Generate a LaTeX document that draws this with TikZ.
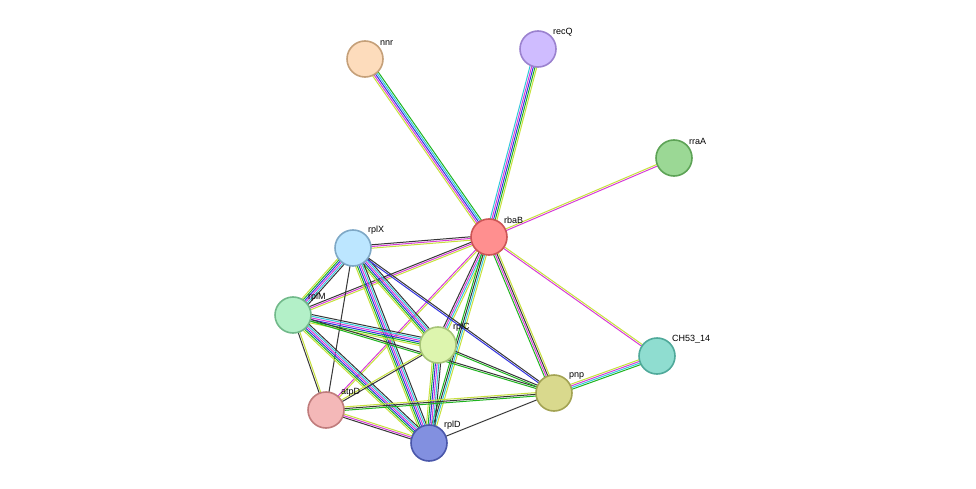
\documentclass[tikz,border=0pt]{standalone}
\usepackage{fontspec}
\setmainfont{Liberation Sans}
\usetikzlibrary{calc,backgrounds}
\definecolor{egrn}{RGB}{30,180,30}
\definecolor{eylw}{RGB}{199,225,60}
\definecolor{ecyn}{RGB}{50,200,220}
\definecolor{emag}{RGB}{215,60,215}
\definecolor{eblu}{RGB}{50,50,225}
\definecolor{eblk}{RGB}{55,55,55}
\definecolor{fnnr}{HTML}{FDDCBC}\definecolor{dnnr}{HTML}{C5A079}
\definecolor{frecQ}{HTML}{CFBCFF}\definecolor{drecQ}{HTML}{9B82CF}
\definecolor{frraA}{HTML}{9BD895}\definecolor{drraA}{HTML}{5DA356}
\definecolor{frbaB}{HTML}{FF8F8F}\definecolor{drbaB}{HTML}{CC5555}
\definecolor{frplX}{HTML}{BCE6FF}\definecolor{drplX}{HTML}{7EA8C6}
\definecolor{frplM}{HTML}{B3F0C8}\definecolor{drplM}{HTML}{71B98A}
\definecolor{frplC}{HTML}{DDF5AE}\definecolor{drplC}{HTML}{A7C477}
\definecolor{fCH53}{HTML}{8FDDD0}\definecolor{dCH53}{HTML}{4FA99A}
\definecolor{fpnp}{HTML}{D9D98D}\definecolor{dpnp}{HTML}{A3A353}
\definecolor{fatpD}{HTML}{F4B8B8}\definecolor{datpD}{HTML}{C07C7C}
\definecolor{frplD}{HTML}{8290E0}\definecolor{drplD}{HTML}{4A57AA}
\tikzset{
  prot/.style={circle,minimum size=36pt,inner sep=0pt,line width=1.6pt,fill=f#1,draw=d#1},
  plab/.style={font=\fontsize{9}{10}\selectfont,anchor=south west,inner sep=1pt},
  edge/.style={line width=1pt}
}
% multi-colour link: from, to, number of lines, colours
\newcommand{\sedge}[4]{%
  \foreach \c [count=\i] in {#4} {
    \pgfmathsetmacro\o{(\i-(#3+1)/2)*1.7}
    \draw[edge,\c] ($(#1)!\o pt!90:(#2)$) -- ($(#2)!\o pt!-90:(#1)$);
  }}
\begin{document}
\begin{tikzpicture}[x=1pt,y=-1pt]
  \useasboundingbox (0,0) rectangle (976,489);
  \node[prot=nnr] (nnr) at (365,59) {};
  \node[prot=recQ] (recQ) at (538,49) {};
  \node[prot=rraA] (rraA) at (674,158) {};
  \node[prot=rbaB] (rbaB) at (489,237) {};
  \node[prot=rplX] (rplX) at (353,248) {};
  \node[prot=rplM] (rplM) at (293,315) {};
  \node[prot=rplC] (rplC) at (438,345) {};
  \node[prot=CH53] (CH53) at (657,356) {};
  \node[prot=pnp] (pnp) at (554,393) {};
  \node[prot=atpD] (atpD) at (326,410) {};
  \node[prot=rplD] (rplD) at (429,443) {};
  \foreach \n/\t in {nnr/nnr,recQ/recQ,rraA/rraA,rbaB/rbaB,rplX/rplX,rplM/rplM,rplC/rplC,CH53/CH53\_14,pnp/pnp,atpD/atpD,rplD/rplD}
    \node[plab] (\n-l) at ($(\n)+(14,-12)$) {\t};
  \begin{scope}[on background layer]
    \sedge{rbaB}{nnr}{5}{egrn,ecyn,eblu,emag,eylw}
    \sedge{rbaB}{recQ}{5}{eylw,egrn,eblu,emag,ecyn}
    \sedge{rbaB}{rraA}{2}{emag,eylw}
    \sedge{rbaB}{CH53}{2}{emag,eylw}
    \sedge{rbaB}{pnp}{4}{egrn,emag,eblk,eylw}
    \sedge{pnp}{CH53}{4}{egrn,ecyn,emag,eylw}
    \sedge{rbaB}{rplX}{3}{eblk,emag,eylw}
    \sedge{rbaB}{rplM}{3}{eblk,emag,eylw}
    \sedge{rbaB}{rplC}{4}{eblk,emag,ecyn,eylw}
    \sedge{rbaB}{rplD}{4}{egrn,eblk,ecyn,eylw}
    \sedge{rbaB}{atpD}{2}{emag,eylw}
    \sedge{rplX}{rplM}{6}{eylw,egrn,eblu,emag,ecyn,eblk}
    \sedge{rplX}{rplC}{6}{eylw,egrn,eblu,emag,ecyn,eblk}
    \sedge{rplX}{rplD}{6}{eylw,egrn,eblu,emag,ecyn,eblk}
    \sedge{rplX}{atpD}{1}{eblk}
    \sedge{rplX}{pnp}{2}{eblu,eblk}
    \sedge{rplM}{rplC}{6}{eylw,egrn,eblu,emag,ecyn,eblk}
    \sedge{rplM}{rplD}{6}{eylw,egrn,eblu,emag,ecyn,eblk}
    \sedge{rplM}{atpD}{2}{eblk,eylw}
    \sedge{rplM}{pnp}{2}{egrn,eblk}
    \sedge{rplC}{rplD}{6}{eylw,egrn,eblu,emag,ecyn,eblk}
    \sedge{rplC}{atpD}{2}{eylw,eblk}
    \sedge{rplC}{pnp}{2}{egrn,eblk}
    \sedge{atpD}{rplD}{3}{eblk,emag,eylw}
    \sedge{atpD}{pnp}{3}{egrn,eblk,eylw}
    \sedge{rplD}{pnp}{1}{eblk}
  \end{scope}
\end{tikzpicture}
\end{document}
